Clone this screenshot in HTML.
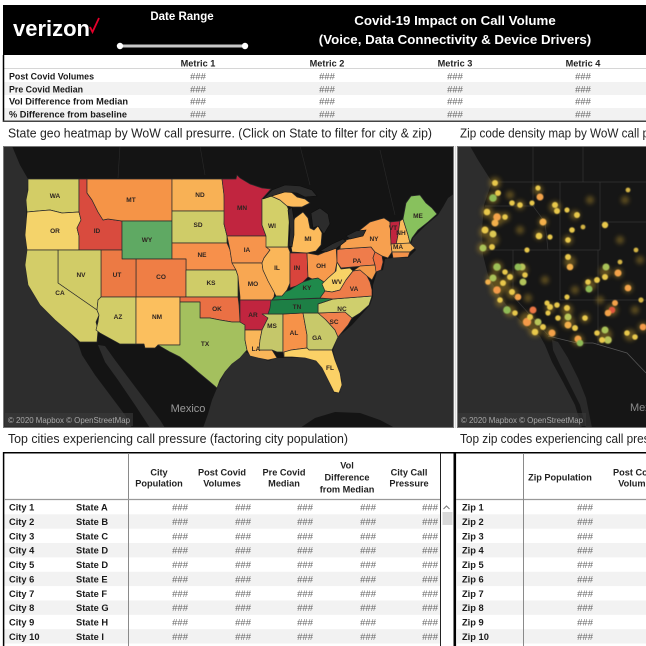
<!DOCTYPE html>
<html><head><meta charset="utf-8"><style>
html,body{margin:0;padding:0;background:#fff;width:646px;height:646px;overflow:hidden}
svg{display:block}
text{font-family:"Liberation Sans",sans-serif}
.b{font-weight:bold}
.st{font-size:6.5px;fill:#2e2420;text-anchor:middle;font-weight:bold}
.lab{font-size:9.3px;font-weight:bold;fill:#1a1a1a}
.hh{font-size:9.2px;font-weight:bold;fill:#222;text-anchor:middle}
.v{font-size:9.5px;fill:#6a6a6a}
.ve{font-size:9.5px;fill:#666;text-anchor:end}
.vm{font-size:9.5px;fill:#666;text-anchor:middle}
</style></head><body>
<svg xmlns="http://www.w3.org/2000/svg" width="646" height="646" viewBox="0 0 646 646">
<defs>
<clipPath id="cl"><rect x="3" y="146" width="451" height="282"/></clipPath>
<clipPath id="cr"><rect x="457" y="146" width="189" height="282"/></clipPath>
<filter id="bl" x="-50%" y="-50%" width="200%" height="200%"><feGaussianBlur stdDeviation="2.2"/></filter>
<filter id="gl" x="-50%" y="-50%" width="200%" height="200%"><feGaussianBlur stdDeviation="0.6"/></filter>
</defs>

<!-- HEADER -->
<rect x="3" y="5" width="643" height="50" fill="#000"/>
<text x="13" y="36" font-size="22" class="b" fill="#fff" textLength="77" lengthAdjust="spacingAndGlyphs">verizon</text>
<polyline points="90,27 92.5,32 99,18" fill="none" stroke="#e4002b" stroke-width="1.8"/>
<text x="182" y="20" font-size="11.5" class="b" fill="#fff" text-anchor="middle">Date Range</text>
<line x1="120" y1="46" x2="245" y2="46" stroke="#c8c8c8" stroke-width="3" stroke-linecap="round"/>
<circle cx="120" cy="46" r="3.2" fill="#fff"/>
<circle cx="245" cy="46" r="3.2" fill="#fff"/>
<text x="455" y="25" font-size="13.3" class="b" fill="#fff" text-anchor="middle">Covid-19 Impact on Call Volume</text>
<text x="455" y="44" font-size="13.3" class="b" fill="#fff" text-anchor="middle">(Voice, Data Connectivity &amp; Device Drivers)</text>

<!-- METRIC TABLE -->
<rect x="4" y="82" width="642" height="13" fill="#f2f2f2"/>
<rect x="4" y="108" width="642" height="13" fill="#f2f2f2"/>
<line x1="4" y1="68.5" x2="646" y2="68.5" stroke="#d6d6d6" stroke-width="1"/>
<line x1="3.5" y1="55" x2="3.5" y2="122" stroke="#000" stroke-width="1.5"/>
<line x1="3" y1="121.3" x2="646" y2="121.3" stroke="#444" stroke-width="1.5"/>
<text x="198" y="66.5" class="hh">Metric 1</text>
<text x="327" y="66.5" class="hh">Metric 2</text>
<text x="455" y="66.5" class="hh">Metric 3</text>
<text x="583" y="66.5" class="hh">Metric 4</text>
<text x="9" y="79.5" class="lab" textLength="85" lengthAdjust="spacingAndGlyphs">Post Covid Volumes</text>
<text x="9" y="92.5" class="lab" textLength="74" lengthAdjust="spacingAndGlyphs">Pre Covid Median</text>
<text x="9" y="104.5" class="lab" textLength="119" lengthAdjust="spacingAndGlyphs">Vol Difference from Median</text>
<text x="9" y="117.5" class="lab" textLength="118" lengthAdjust="spacingAndGlyphs">% Difference from baseline</text>
<g>
<text x="198" y="79.5" class="vm">###</text><text x="327" y="79.5" class="vm">###</text><text x="455" y="79.5" class="vm">###</text><text x="583" y="79.5" class="vm">###</text>
<text x="198" y="92.5" class="vm">###</text><text x="327" y="92.5" class="vm">###</text><text x="455" y="92.5" class="vm">###</text><text x="583" y="92.5" class="vm">###</text>
<text x="198" y="104.5" class="vm">###</text><text x="327" y="104.5" class="vm">###</text><text x="455" y="104.5" class="vm">###</text><text x="583" y="104.5" class="vm">###</text>
<text x="198" y="117.5" class="vm">###</text><text x="327" y="117.5" class="vm">###</text><text x="455" y="117.5" class="vm">###</text><text x="583" y="117.5" class="vm">###</text>
</g>

<!-- SECTION TITLES -->
<text x="8" y="137.5" font-size="13" fill="#222" textLength="424" lengthAdjust="spacingAndGlyphs">State geo heatmap by WoW call presurre. (Click on State to filter for city &amp; zip)</text>
<text x="460" y="137.5" font-size="13" fill="#222" textLength="228" lengthAdjust="spacingAndGlyphs">Zip code density map by WoW call pressure</text>

<!-- LEFT MAP -->
<g clip-path="url(#cl)">
<rect x="3" y="146" width="451" height="282" fill="#141414"/>
<path d="M3,146 L12,146 L20,165 L28,179 L26,212 L27,250 L25,265 L28,285 L40,305 L55,320 L70,333 L78,343 L82,355 L95,375 L110,395 L125,415 L132,428 L3,428 Z" fill="#2d2d2d"/>
<path d="M98,345 L105,346 L115,360 L130,380 L145,400 L160,420 L165,428 L150,428 L135,405 L118,380 L105,362 Z" fill="#2d2d2d"/>
<path d="M203,428 L208,414 L212,400 L217,388 L225,372 L235,360 L245,352 L258,357 L268,361 L277,358 L290,358 L305,358 L318,361 L322,368 L328,380 L334,393 L340,393 L342,380 L336,362 L333,350 L338,337 L352,325 L362,314 L370,305 L373,296 L373,285 L377,272 L383,270 L385,259 L393,258 L408,258 L416,250 L411,244 L413,238 L425,226 L438,215 L443,207 L448,198 L455,193 L455,428 Z" fill="#2d2d2d"/>
<path d="M300,428 L315,418 L335,412 L360,413 L380,420 L395,428 Z" fill="#141414"/>
<g stroke="#2a2a2a" stroke-width="0.6" fill="none">
<path d="M200,146 L205,175"/><path d="M120,146 L118,178"/><path d="M300,146 L310,185"/><path d="M380,150 L395,215"/>
</g>
<g stroke="#2b2b2b" stroke-width="0.7" stroke-linejoin="round">
<path fill="#d3cd66" d="M28,179 L79,179 L79,212 L62,213 L50,210 L38,211 L27,212 L26,200 L28,190 Z"/>
<path fill="#f4d36a" d="M27,212 L38,211 L50,210 L62,213 L79,212 L81,220 L77,228 L79,236 L79,250 L27,250 L25,235 Z"/>
<path fill="#d94b3e" d="M79,179 L87,179 L87,193 L92,200 L98,212 L103,220 L108,219 L122,221 L122,250 L79,250 L79,236 L77,228 L81,220 L79,212 Z"/>
<path fill="#f59447" d="M87,179 L172,179 L172,221 L122,221 L108,219 L103,220 L98,212 L92,200 L87,193 Z"/>
<path fill="#5fa963" d="M122,221 L172,221 L172,259 L122,259 Z"/>
<path fill="#f8b155" d="M172,179 L222,179 L224,195 L225,211 L172,211 Z"/>
<path fill="#cfcc68" d="M172,211 L225,211 L224,224 L227,236 L227,243 L172,243 Z"/>
<path fill="#f7904b" d="M172,243 L227,243 L230,250 L232,262 L236,270 L186,270 L186,259 L172,259 Z"/>
<path fill="#ef7e45" d="M136,259 L186,259 L186,297 L136,297 Z"/>
<path fill="#cfcc68" d="M186,270 L236,270 L238,276 L238,297 L186,297 Z"/>
<path fill="#ec7a44" d="M101,250 L122,250 L122,259 L136,259 L136,297 L101,297 Z"/>
<path fill="#d1cc67" d="M58,250 L101,250 L101,297 L98,300 L97,310 L58,283 Z"/>
<path fill="#d3cd68" d="M27,250 L58,250 L58,283 L97,310 L99,315 L96,322 L98,330 L97,342 L80,342 L70,333 L55,320 L40,305 L28,285 L25,265 Z"/>
<path fill="#d2cd68" d="M101,297 L136,297 L136,344 L120,344 L100,333 L96,330 L98,322 L99,315 L97,310 L98,300 Z"/>
<path fill="#fbbf5e" d="M136,297 L180,297 L180,345 L158,345 L155,348 L145,348 L144,344 L136,344 Z"/>
<path fill="#ea7044" d="M180,297 L238,297 L239,305 L240,322 L232,322 L220,320 L210,318 L200,318 L200,302 L180,302 Z"/>
<path fill="#a4c05e" d="M180,302 L200,302 L200,318 L210,318 L220,320 L232,322 L240,322 L245,325 L245,340 L247,350 L240,358 L232,364 L225,372 L220,380 L217,388 L210,382 L198,372 L190,365 L180,357 L170,352 L158,345 L180,345 Z"/>
<path fill="#c1253f" d="M222,179 L236,179 L237,175 L240,178 L250,184 L262,188 L271,189 L262,199 L262,225 L266,236 L227,236 L224,224 L224,195 Z"/>
<path fill="#f6944c" d="M227,236 L266,236 L268,244 L270,250 L264,258 L262,263 L232,263 L230,250 Z"/>
<path fill="#f8a752" d="M232,263 L262,263 L263,270 L268,280 L275,290 L274,297 L272,300 L240,300 L240,297 L238,276 L236,270 Z"/>
<path fill="#c1253f" d="M240,300 L272,300 L271,310 L268,318 L262,330 L245,330 L245,325 L240,322 Z"/>
<path fill="#fab659" d="M245,330 L262,330 L260,340 L259,350 L272,350 L277,358 L268,360 L258,358 L250,356 L247,350 L245,340 Z"/>
<path fill="#c5c76a" d="M262,314 L283,314 L283,352 L277,352 L272,350 L259,350 L260,340 L262,330 L268,318 Z"/>
<path fill="#f69249" d="M283,314 L303,313 L307,335 L307,348 L291,350 L290,357 L284,357 L283,352 Z"/>
<path fill="#c8c96a" d="M303,313 L320,313 L326,320 L335,330 L338,337 L332,350 L309,350 L307,348 L307,335 Z"/>
<path fill="#fbd166" d="M284,352 L291,350 L307,348 L309,350 L332,350 L335,360 L340,373 L342,385 L339,393 L334,392 L328,380 L322,368 L316,361 L305,358 L292,357 L284,357 Z"/>
<path fill="#f0804b" d="M318,313 L345,312 L352,318 L348,325 L338,337 L335,330 L326,320 Z"/>
<path fill="#cfcf6d" d="M318,304 L333,299 L372,296 L369,305 L360,313 L352,318 L345,312 L318,313 Z"/>
<path fill="#1d7f45" d="M271,300 L333,298 L333,299 L318,304 L318,313 L303,313 L283,314 L268,314 L270,308 Z"/>
<path fill="#1f8a4b" d="M272,300 L276,296 L282,293 L290,290 L296,286 L300,283 L306,281 L312,279 L318,278 L324,282 L330,288 L333,292 L325,297 L320,298 Z"/>
<path fill="#fab659" d="M266,247 L288,247 L290,252 L290,283 L287,290 L282,296 L276,296 L274,292 L268,281 L263,270 L262,263 L264,258 L270,250 Z"/>
<path fill="#d9443c" d="M290,253 L307,253 L308,277 L303,282 L296,286 L290,288 L290,283 Z"/>
<path fill="#f79a4c" d="M307,253 L318,255 L325,252 L336,246 L337,262 L335,272 L330,280 L324,282 L318,278 L312,279 L308,277 Z"/>
<path fill="#d3cf68" d="M262,199 L271,196 L280,200 L287,206 L290,213 L289,225 L288,247 L266,247 L266,236 L262,225 Z"/>
<path fill="#fcbb5c" d="M292,252 L290,240 L290,228 L295,218 L303,212 L308,218 L310,228 L314,230 L318,226 L322,233 L321,245 L316,251 L307,253 Z"/>
<path fill="#fcbb5c" d="M271,196 L280,192 L290,191 L297,197 L305,199 L310,203 L302,207 L292,207 L287,206 L280,200 Z"/>
<path fill="#f8d266" d="M322,284 L328,278 L336,271 L337,262 L341,269 L350,268 L353,271 L346,280 L340,290 L332,292 L325,291 Z"/>
<path fill="#ee7c49" d="M320,298 L325,291 L332,292 L340,290 L346,280 L353,271 L360,268 L366,274 L370,282 L372,290 L372,296 L333,299 Z"/>
<path fill="#ef7c4b" d="M337,250 L340,249 L371,247 L375,252 L373,258 L375,265 L341,268 L337,262 Z"/>
<path fill="#f7a04f" d="M340,249 L341,242 L352,238 L360,230 L370,222 L384,218 L390,222 L391,244 L392,252 L388,258 L382,256 L375,252 L371,247 Z"/>
<path fill="#ee7040" d="M375,252 L382,256 L383,262 L381,270 L376,272 L373,266 L375,265 L373,258 Z"/>
<path fill="#f39a4a" d="M353,271 L360,266 L375,265 L376,272 L372,280 L367,276 L360,270 Z"/>
<path fill="#c1253f" d="M390,222 L400,221 L398,235 L396,245 L391,244 Z"/>
<path fill="#fbbb5c" d="M400,221 L403,219 L408,235 L410,243 L396,245 L398,235 Z"/>
<path fill="#88c15d" d="M403,219 L406,203 L411,196 L420,195 L426,203 L432,208 L437,214 L428,222 L418,230 L412,238 L410,243 L408,235 Z"/>
<path fill="#f9b457" d="M391,244 L410,243 L415,248 L410,252 L392,252 Z"/>
<path fill="#f4934a" d="M392,252 L410,252 L408,257 L393,258 Z"/>
</g>
<g fill="#2c2c2c" stroke="#0e0e0e" stroke-width="0.6">
<path d="M263,199 L272,190 L285,185 L300,186 L312,190 L317,196 L305,197 L297,193 L285,192 L272,196 Z"/>
<path d="M288,210 L292,207 L294,220 L294,235 L292,247 L289,246 L290,230 Z"/>
<path d="M311,213 L320,208 L328,214 L330,224 L324,234 L318,226 L313,228 Z"/>
<path d="M320,251 L332,244 L343,239 L346,241 L337,248 L326,252 Z"/>
<path d="M346,236 L356,231 L366,230 L363,236 L350,239 Z"/>
</g>
<g>
<text x="55" y="198" class="st">WA</text><text x="55" y="233" class="st">OR</text><text x="97" y="233" class="st">ID</text>
<text x="131" y="202" class="st">MT</text><text x="147" y="242" class="st">WY</text><text x="200" y="197" class="st">ND</text>
<text x="198" y="227" class="st">SD</text><text x="202" y="257" class="st">NE</text><text x="81" y="277" class="st">NV</text>
<text x="117" y="277" class="st">UT</text><text x="161" y="279" class="st">CO</text><text x="211" y="285" class="st">KS</text>
<text x="60" y="295" class="st">CA</text><text x="118" y="319" class="st">AZ</text><text x="157" y="319" class="st">NM</text>
<text x="217" y="311" class="st">OK</text><text x="205" y="346" class="st">TX</text><text x="242" y="210" class="st">MN</text>
<text x="247" y="252" class="st">IA</text><text x="253" y="286" class="st">MO</text><text x="253" y="317" class="st">AR</text>
<text x="256" y="351" class="st">LA</text><text x="272" y="228" class="st">WI</text><text x="277" y="270" class="st">IL</text>
<text x="308" y="241" class="st">MI</text><text x="297" y="270" class="st">IN</text><text x="321" y="268" class="st">OH</text>
<text x="307" y="290" class="st">KY</text><text x="297" y="309" class="st">TN</text><text x="272" y="328" class="st">MS</text>
<text x="294" y="335" class="st">AL</text><text x="317" y="340" class="st">GA</text><text x="330" y="370" class="st">FL</text>
<text x="334" y="324" class="st">SC</text><text x="342" y="311" class="st">NC</text><text x="354" y="291" class="st">VA</text>
<text x="337" y="284" class="st">WV</text><text x="357" y="263" class="st">PA</text><text x="374" y="241" class="st">NY</text>
<text x="393" y="230" class="st">VT</text><text x="401" y="235" class="st">NH</text><text x="418" y="218" class="st">ME</text>
<text x="398" y="249" class="st">MA</text>
</g>
<text x="188" y="412" font-size="11" fill="#9a9a9a" text-anchor="middle">Mexico</text>
<rect x="5" y="413" width="128" height="13" fill="#3a3a3a" opacity="0.6"/>
<text x="8" y="423" font-size="8.5" fill="#a8a8a8" textLength="122" lengthAdjust="spacingAndGlyphs">© 2020 Mapbox © OpenStreetMap</text>
</g>
<rect x="3.5" y="146.5" width="450" height="281" fill="none" stroke="#777" stroke-width="1"/>
<line x1="455.5" y1="146" x2="455.5" y2="428" stroke="#ddd" stroke-width="1.5"/>

<!-- RIGHT MAP -->
<g clip-path="url(#cr)">
<rect x="457" y="146" width="189" height="282" fill="#161616"/>
<path d="M457,146 L470,146 L478,160 L492,182 L484,205 L482,230 L483,255 L488,275 L500,297 L515,315 L528,328 L540,336 L545,345 L552,362 L563,382 L575,405 L582,428 L457,428 Z" fill="#2d2d2d"/>
<path d="M552,340 L558,342 L568,358 L578,378 L586,398 L592,428 L586,428 L580,405 L570,385 L560,365 L553,350 Z" fill="#2a2a2a"/>
<g stroke="#353535" stroke-width="0.7" fill="none">
<path d="M490,182 L646,182"/><path d="M583,146 L583,182"/><path d="M533,146 L533,182"/>
<path d="M485,206 L535,206"/><path d="M483,250 L600,250"/><path d="M513,250 L513,296 L548,335"/>
<path d="M560,182 L560,300"/><path d="M533,182 L533,206 L545,222 L548,250"/><path d="M560,300 L646,300"/>
<path d="M598,250 L598,345"/><path d="M600,222 L646,222"/><path d="M600,182 L600,250"/>
</g>
<path d="M548,336 L577,343 L593,343 L627,353 L646,373" stroke="#555" stroke-width="0.8" fill="none"/>
<g filter="url(#bl)" fill="#9a7c28" opacity="0.55">
<circle cx="495" cy="183" r="6"/><circle cx="493" cy="198" r="6"/><circle cx="487" cy="212" r="6"/><circle cx="497" cy="219" r="7"/>
<circle cx="485" cy="232" r="6"/><circle cx="493" cy="240" r="6"/><circle cx="483" cy="248" r="6"/><circle cx="505" cy="217" r="5"/>
<circle cx="520" cy="205" r="5"/><circle cx="538" cy="190" r="5"/><circle cx="555" cy="207" r="6"/><circle cx="575" cy="215" r="5"/>
<circle cx="543" cy="222" r="5"/><circle cx="539" cy="235" r="5"/><circle cx="568" cy="240" r="5"/><circle cx="570" cy="262" r="6"/>
<circle cx="497" cy="267" r="6"/><circle cx="493" cy="280" r="7"/><circle cx="497" cy="290" r="7"/><circle cx="510" cy="277" r="5"/>
<circle cx="522" cy="270" r="6"/><circle cx="503" cy="285" r="6"/><circle cx="512" cy="293" r="6"/><circle cx="500" cy="302" r="5"/>
<circle cx="510" cy="311" r="6"/><circle cx="527" cy="320" r="8"/><circle cx="535" cy="330" r="7"/><circle cx="550" cy="333" r="6"/>
<circle cx="550" cy="308" r="5"/><circle cx="567" cy="310" r="6"/><circle cx="568" cy="322" r="7"/><circle cx="578" cy="340" r="6"/>
<circle cx="585" cy="318" r="5"/><circle cx="590" cy="285" r="6"/><circle cx="605" cy="272" r="6"/><circle cx="618" cy="273" r="5"/>
<circle cx="612" cy="310" r="6"/><circle cx="605" cy="335" r="7"/><circle cx="630" cy="335" r="6"/><circle cx="643" cy="327" r="5"/>
<circle cx="628" cy="288" r="5"/><circle cx="620" cy="240" r="4"/><circle cx="640" cy="260" r="4"/><circle cx="625" cy="200" r="4"/>
<circle cx="590" cy="200" r="4"/><circle cx="545" cy="280" r="4"/><circle cx="575" cy="290" r="4"/><circle cx="635" cy="310" r="4"/>
<circle cx="528" cy="298" r="4"/><circle cx="520" cy="230" r="4"/><circle cx="510" cy="195" r="4"/><circle cx="600" cy="300" r="4"/>
</g>
<g filter="url(#gl)">
<circle cx="495" cy="183" r="3" fill="#e8c84c"/><circle cx="493" cy="198" r="3.8" fill="#8fbb57"/><circle cx="498" cy="193" r="3" fill="#e8c84c"/>
<circle cx="487" cy="212" r="3.3" fill="#e8c84c"/><circle cx="497" cy="217" r="3.8" fill="#f3a24a"/><circle cx="495" cy="223" r="3.5" fill="#f3b04c"/>
<circle cx="485" cy="230" r="3.5" fill="#e8c84c"/><circle cx="493" cy="234" r="3.5" fill="#dcc852"/><circle cx="483" cy="248" r="3.5" fill="#a9c259"/>
<circle cx="492" cy="247" r="3" fill="#e8c84c"/><circle cx="505" cy="217" r="2.8" fill="#e8c84c"/><circle cx="512" cy="203" r="2.8" fill="#e8c84c"/>
<circle cx="520" cy="205" r="2.8" fill="#e8c84c"/><circle cx="532" cy="203" r="2.6" fill="#e8c84c"/><circle cx="538" cy="188" r="2.6" fill="#e8c84c"/>
<circle cx="540" cy="197" r="3.5" fill="#f3a24a"/><circle cx="555" cy="205" r="3" fill="#e8c84c"/><circle cx="557" cy="211" r="3" fill="#e8c84c"/>
<circle cx="567" cy="210" r="2.6" fill="#e8c84c"/><circle cx="577" cy="215" r="3" fill="#e8c84c"/><circle cx="543" cy="222" r="3.5" fill="#f3b04c"/>
<circle cx="539" cy="236" r="3.3" fill="#e8c84c"/><circle cx="568" cy="240" r="2.8" fill="#e8c84c"/><circle cx="572" cy="230" r="2.8" fill="#e8c84c"/>
<circle cx="605" cy="225" r="3.2" fill="#e8c84c"/><circle cx="628" cy="190" r="2.4" fill="#d4b444"/><circle cx="568" cy="257" r="3" fill="#e8c84c"/>
<circle cx="570" cy="267" r="3.3" fill="#f3b04c"/><circle cx="497" cy="267" r="3.8" fill="#9cbf57"/><circle cx="505" cy="272" r="2.8" fill="#e8c84c"/>
<circle cx="493" cy="278" r="3.5" fill="#a9c259"/><circle cx="488" cy="282" r="2.8" fill="#f3b04c"/><circle cx="497" cy="290" r="3.8" fill="#f39a48"/>
<circle cx="510" cy="277" r="3" fill="#e8c84c"/><circle cx="522" cy="267" r="3.5" fill="#b8c459"/><circle cx="525" cy="275" r="2.8" fill="#e8c84c"/>
<circle cx="523" cy="282" r="3.5" fill="#b1c35a"/><circle cx="503" cy="283" r="3" fill="#e8c84c"/><circle cx="512" cy="292" r="3" fill="#e8c84c"/>
<circle cx="518" cy="297" r="3.3" fill="#f3a24a"/><circle cx="500" cy="300" r="2.8" fill="#e8c84c"/><circle cx="507" cy="310" r="3.8" fill="#8fbb57"/>
<circle cx="515" cy="313" r="2.8" fill="#e8c84c"/><circle cx="527" cy="322" r="4.2" fill="#f39a48"/><circle cx="533" cy="310" r="3.5" fill="#ec7644"/>
<circle cx="530" cy="317" r="3" fill="#e8c84c"/><circle cx="538" cy="322" r="3.5" fill="#b8c459"/><circle cx="535" cy="332" r="3.3" fill="#e8c84c"/>
<circle cx="543" cy="327" r="3" fill="#e8c84c"/><circle cx="552" cy="333" r="3.5" fill="#f3a24a"/><circle cx="550" cy="307" r="3" fill="#e8c84c"/>
<circle cx="557" cy="305" r="2.8" fill="#e8c84c"/><circle cx="567" cy="308" r="3" fill="#e8c84c"/><circle cx="568" cy="317" r="3.5" fill="#b8c459"/>
<circle cx="568" cy="325" r="3.5" fill="#f3b04c"/><circle cx="575" cy="328" r="3" fill="#e8c84c"/><circle cx="578" cy="339" r="3.5" fill="#f3a24a"/>
<circle cx="580" cy="343" r="3.3" fill="#8fbb57"/><circle cx="585" cy="318" r="2.8" fill="#e8c84c"/><circle cx="558" cy="318" r="2.8" fill="#e8c84c"/>
<circle cx="548" cy="313" r="2.6" fill="#e8c84c"/><circle cx="588" cy="282" r="2.8" fill="#e8c84c"/><circle cx="589" cy="289" r="3.5" fill="#8fbb57"/>
<circle cx="597" cy="280" r="3" fill="#e8c84c"/><circle cx="605" cy="277" r="3" fill="#e8c84c"/><circle cx="606" cy="267" r="3.5" fill="#a9c259"/>
<circle cx="618" cy="273" r="3.5" fill="#f3a24a"/><circle cx="628" cy="288" r="3.3" fill="#f3a24a"/><circle cx="615" cy="303" r="3" fill="#f3a24a"/>
<circle cx="612" cy="310" r="3.3" fill="#e0573d"/><circle cx="608" cy="313" r="3.3" fill="#f3a24a"/><circle cx="605" cy="330" r="3.5" fill="#a9c259"/>
<circle cx="608" cy="340" r="3.8" fill="#b8c459"/><circle cx="597" cy="333" r="2.8" fill="#e8c84c"/><circle cx="602" cy="340" r="3" fill="#e8c84c"/>
<circle cx="627" cy="333" r="2.8" fill="#e8c84c"/><circle cx="635" cy="337" r="2.8" fill="#e8c84c"/><circle cx="643" cy="327" r="3.3" fill="#f39a48"/>
<circle cx="620" cy="262" r="2.4" fill="#d4b444"/><circle cx="583" cy="227" r="2.4" fill="#d4b444"/><circle cx="550" cy="237" r="2.6" fill="#e8c84c"/>
<circle cx="527" cy="250" r="2.6" fill="#e8c84c"/><circle cx="518" cy="267" r="3.5" fill="#8fbb57"/><circle cx="567" cy="297" r="2.6" fill="#e8c84c"/>
<circle cx="547" cy="303" r="2.6" fill="#e8c84c"/><circle cx="641" cy="300" r="2.6" fill="#d4b444"/><circle cx="636" cy="250" r="2.4" fill="#d4b444"/>
</g>
<text x="630" y="411" font-size="11" fill="#8a8a8a">Mexico</text>
<rect x="458" y="413" width="128" height="13" fill="#3a3a3a" opacity="0.6"/>
<text x="461" y="423" font-size="8.5" fill="#a8a8a8" textLength="122" lengthAdjust="spacingAndGlyphs">© 2020 Mapbox © OpenStreetMap</text>
</g>
<rect x="457.5" y="146.5" width="189" height="281" fill="none" stroke="#777" stroke-width="1"/>

<!-- BOTTOM TITLES -->
<text x="8" y="443" font-size="13" fill="#222" textLength="340" lengthAdjust="spacingAndGlyphs">Top cities experiencing call pressure (factoring city population)</text>
<text x="460" y="443" font-size="13" fill="#222" textLength="345" lengthAdjust="spacingAndGlyphs">Top zip codes experiencing call pressure (factoring zip population)</text>

<!-- BOTTOM TABLES -->
<g fill="#f2f2f2">
<rect x="4" y="514.35" width="436" height="14.35"/><rect x="4" y="543.05" width="436" height="14.35"/>
<rect x="4" y="571.75" width="436" height="14.35"/><rect x="4" y="600.45" width="436" height="14.35"/>
<rect x="4" y="629.15" width="436" height="14.35"/>
<rect x="457" y="514.35" width="189" height="14.35"/><rect x="457" y="543.05" width="189" height="14.35"/>
<rect x="457" y="571.75" width="189" height="14.35"/><rect x="457" y="600.45" width="189" height="14.35"/>
<rect x="457" y="629.15" width="189" height="14.35"/>
</g>
<line x1="3" y1="452.7" x2="646" y2="452.7" stroke="#000" stroke-width="1.5"/>
<line x1="3.6" y1="452" x2="3.6" y2="646" stroke="#000" stroke-width="1.5"/>
<line x1="128.5" y1="453" x2="128.5" y2="646" stroke="#8a8a8a" stroke-width="1"/>
<line x1="4" y1="499.5" x2="440" y2="499.5" stroke="#999" stroke-width="1.2"/>
<line x1="440.5" y1="453" x2="440.5" y2="646" stroke="#222" stroke-width="1"/>
<rect x="442.5" y="512" width="10" height="13" fill="#d9d9d9"/>
<polyline points="443.5,509 446.5,506 449.5,509" fill="none" stroke="#777" stroke-width="1"/>
<rect x="453.5" y="452" width="2.6" height="194" fill="#000"/>
<line x1="456" y1="499.5" x2="646" y2="499.5" stroke="#999" stroke-width="1.2"/>
<line x1="523.5" y1="453" x2="523.5" y2="646" stroke="#8a8a8a" stroke-width="1"/>

<text x="159" y="475.5" class="hh">City</text><text x="159" y="486.5" class="hh">Population</text>
<text x="222" y="475.5" class="hh">Post Covid</text><text x="222" y="486.5" class="hh">Volumes</text>
<text x="284" y="475.5" class="hh">Pre Covid</text><text x="284" y="486.5" class="hh">Median</text>
<text x="347" y="468.5" class="hh">Vol</text><text x="347" y="480.5" class="hh">Difference</text><text x="347" y="492.5" class="hh">from Median</text>
<text x="409" y="475.5" class="hh">City Call</text><text x="409" y="486.5" class="hh">Pressure</text>
<text x="560" y="480.5" class="hh">Zip Population</text>
<text x="637" y="475.5" class="hh">Post Covid</text><text x="637" y="486.5" class="hh">Volumes</text>

<g>
<text x="9" y="510.7" class="lab">City 1</text><text x="76" y="510.7" class="lab">State A</text>
<text x="9" y="525.0" class="lab">City 2</text><text x="76" y="525.0" class="lab">State B</text>
<text x="9" y="539.4" class="lab">City 3</text><text x="76" y="539.4" class="lab">State C</text>
<text x="9" y="553.7" class="lab">City 4</text><text x="76" y="553.7" class="lab">State D</text>
<text x="9" y="568.1" class="lab">City 5</text><text x="76" y="568.1" class="lab">State D</text>
<text x="9" y="582.4" class="lab">City 6</text><text x="76" y="582.4" class="lab">State E</text>
<text x="9" y="596.8" class="lab">City 7</text><text x="76" y="596.8" class="lab">State F</text>
<text x="9" y="611.1" class="lab">City 8</text><text x="76" y="611.1" class="lab">State G</text>
<text x="9" y="625.5" class="lab">City 9</text><text x="76" y="625.5" class="lab">State H</text>
<text x="9" y="639.8" class="lab">City 10</text><text x="76" y="639.8" class="lab">State I</text>
<text x="462" y="510.7" class="lab">Zip 1</text><text x="462" y="525.0" class="lab">Zip 2</text>
<text x="462" y="539.4" class="lab">Zip 3</text><text x="462" y="553.7" class="lab">Zip 4</text>
<text x="462" y="568.1" class="lab">Zip 5</text><text x="462" y="582.4" class="lab">Zip 6</text>
<text x="462" y="596.8" class="lab">Zip 7</text><text x="462" y="611.1" class="lab">Zip 8</text>
<text x="462" y="625.5" class="lab">Zip 9</text><text x="462" y="639.8" class="lab">Zip 10</text>
</g>
<g>
<text x="188" y="510.7" class="ve">###</text><text x="251" y="510.7" class="ve">###</text><text x="313" y="510.7" class="ve">###</text><text x="376" y="510.7" class="ve">###</text><text x="438" y="510.7" class="ve">###</text><text x="593" y="510.7" class="ve">###</text>
<text x="188" y="525.0" class="ve">###</text><text x="251" y="525.0" class="ve">###</text><text x="313" y="525.0" class="ve">###</text><text x="376" y="525.0" class="ve">###</text><text x="438" y="525.0" class="ve">###</text><text x="593" y="525.0" class="ve">###</text>
<text x="188" y="539.4" class="ve">###</text><text x="251" y="539.4" class="ve">###</text><text x="313" y="539.4" class="ve">###</text><text x="376" y="539.4" class="ve">###</text><text x="438" y="539.4" class="ve">###</text><text x="593" y="539.4" class="ve">###</text>
<text x="188" y="553.7" class="ve">###</text><text x="251" y="553.7" class="ve">###</text><text x="313" y="553.7" class="ve">###</text><text x="376" y="553.7" class="ve">###</text><text x="438" y="553.7" class="ve">###</text><text x="593" y="553.7" class="ve">###</text>
<text x="188" y="568.1" class="ve">###</text><text x="251" y="568.1" class="ve">###</text><text x="313" y="568.1" class="ve">###</text><text x="376" y="568.1" class="ve">###</text><text x="438" y="568.1" class="ve">###</text><text x="593" y="568.1" class="ve">###</text>
<text x="188" y="582.4" class="ve">###</text><text x="251" y="582.4" class="ve">###</text><text x="313" y="582.4" class="ve">###</text><text x="376" y="582.4" class="ve">###</text><text x="438" y="582.4" class="ve">###</text><text x="593" y="582.4" class="ve">###</text>
<text x="188" y="596.8" class="ve">###</text><text x="251" y="596.8" class="ve">###</text><text x="313" y="596.8" class="ve">###</text><text x="376" y="596.8" class="ve">###</text><text x="438" y="596.8" class="ve">###</text><text x="593" y="596.8" class="ve">###</text>
<text x="188" y="611.1" class="ve">###</text><text x="251" y="611.1" class="ve">###</text><text x="313" y="611.1" class="ve">###</text><text x="376" y="611.1" class="ve">###</text><text x="438" y="611.1" class="ve">###</text><text x="593" y="611.1" class="ve">###</text>
<text x="188" y="625.5" class="ve">###</text><text x="251" y="625.5" class="ve">###</text><text x="313" y="625.5" class="ve">###</text><text x="376" y="625.5" class="ve">###</text><text x="438" y="625.5" class="ve">###</text><text x="593" y="625.5" class="ve">###</text>
<text x="188" y="639.8" class="ve">###</text><text x="251" y="639.8" class="ve">###</text><text x="313" y="639.8" class="ve">###</text><text x="376" y="639.8" class="ve">###</text><text x="438" y="639.8" class="ve">###</text><text x="593" y="639.8" class="ve">###</text>
</g>
</svg>
</body></html>
